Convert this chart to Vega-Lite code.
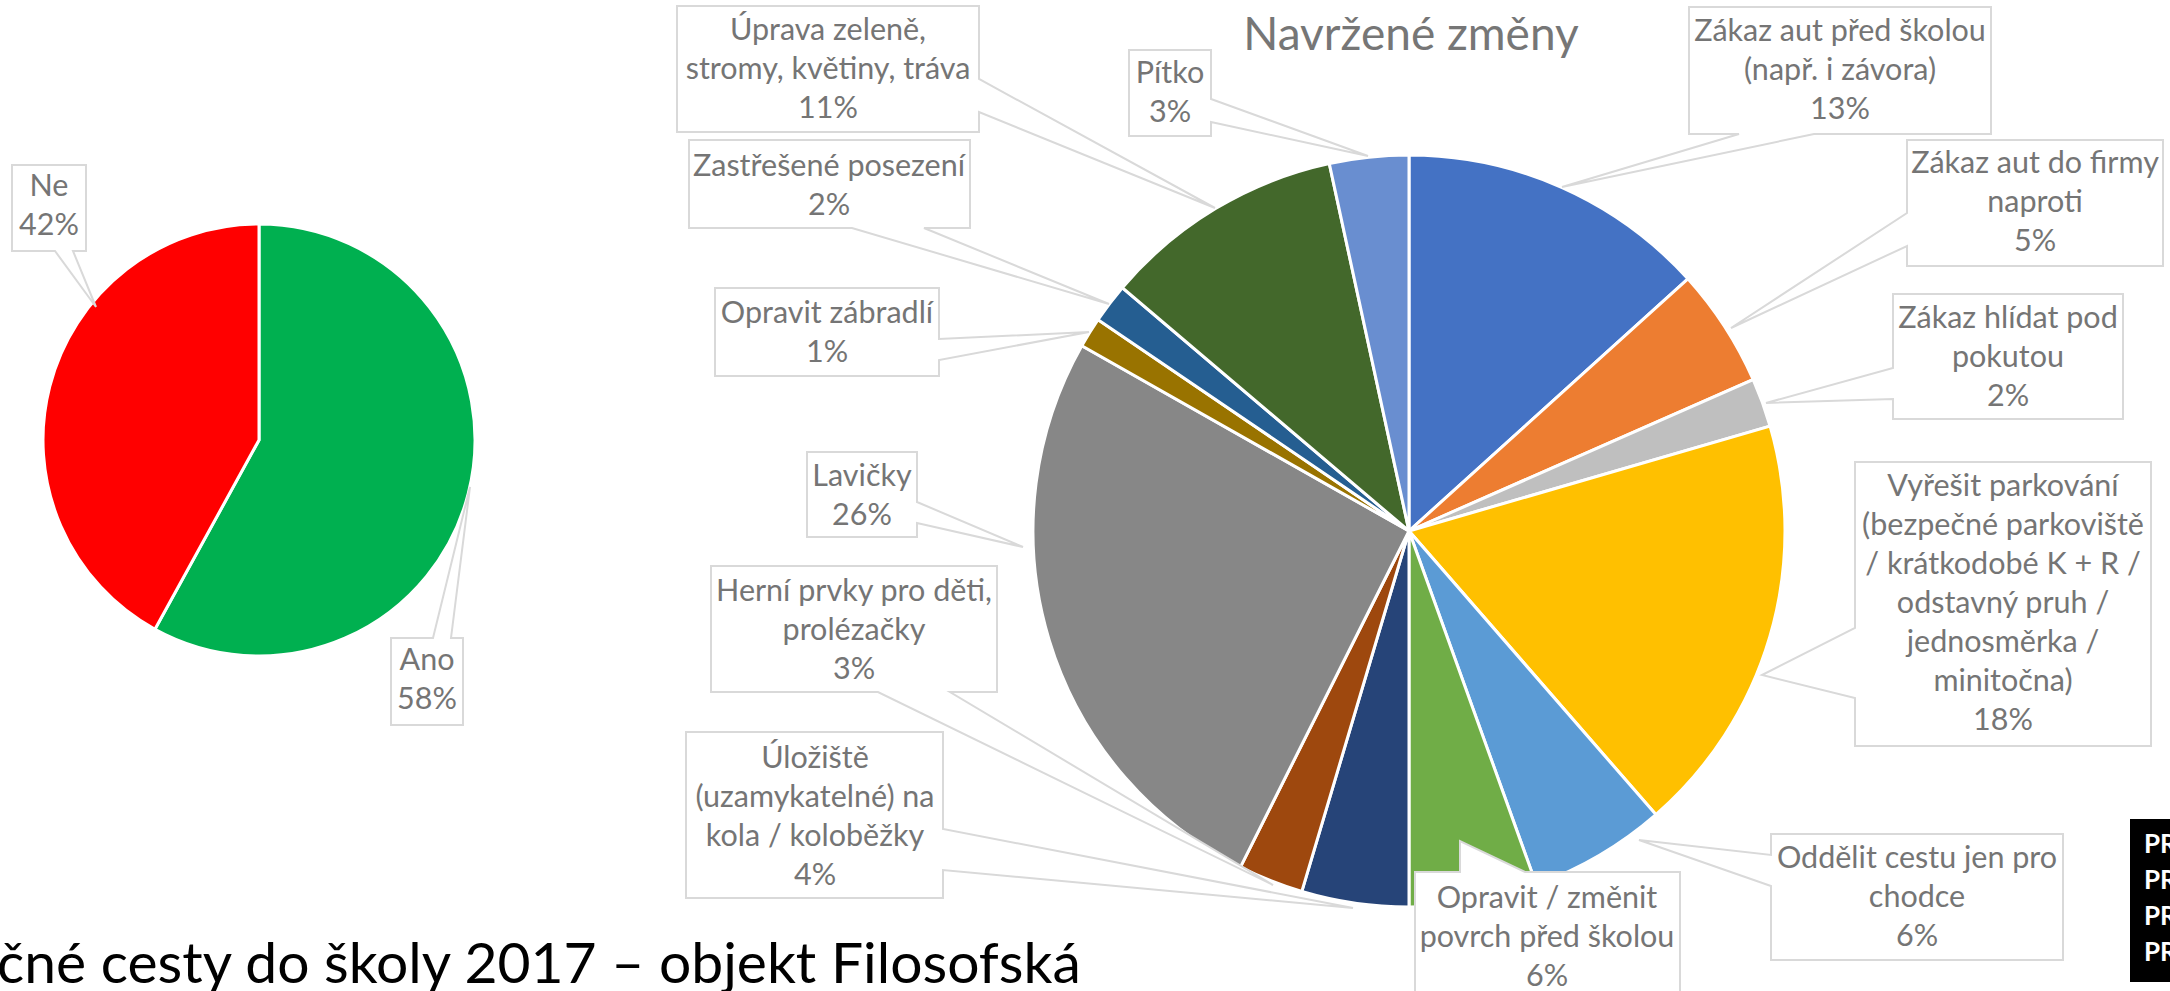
{
  "$schema": "https://vega.github.io/schema/vega-lite/v6.json",
  "width": 2170,
  "height": 991,
  "autosize": {"type": "fit", "contains": "padding"},
  "padding": 0,
  "background": "white",
  "config": {"view": {"stroke": null}},
  "datasets": {
    "ano_ne": [
      {"odpoved": "Ano", "podil": 58, "poradi": 1},
      {"odpoved": "Ne", "podil": 42, "poradi": 2}
    ],
    "zmeny": [
      {"zmena": "Zákaz aut před školou (např. i závora)", "podil": 13.3, "poradi": 1},
      {"zmena": "Zákaz aut do firmy naproti", "podil": 5.1, "poradi": 2},
      {"zmena": "Zákaz hlídat pod pokutou", "podil": 2.1, "poradi": 3},
      {"zmena": "Vyřešit parkování", "podil": 18.1, "poradi": 4},
      {"zmena": "Oddělit cestu jen pro chodce", "podil": 5.9, "poradi": 5},
      {"zmena": "Opravit / změnit povrch před školou", "podil": 5.5, "poradi": 6},
      {"zmena": "Úložiště (uzamykatelné) na kola / koloběžky", "podil": 4.6, "poradi": 7},
      {"zmena": "Herní prvky pro děti, prolézačky", "podil": 2.8, "poradi": 8},
      {"zmena": "Lavičky", "podil": 25.8, "poradi": 9},
      {"zmena": "Opravit zábradlí", "podil": 1.3, "poradi": 10},
      {"zmena": "Zastřešené posezení", "podil": 1.7, "poradi": 11},
      {"zmena": "Úprava zeleně, stromy, květiny, tráva", "podil": 10.4, "poradi": 12},
      {"zmena": "Pítko", "podil": 3.4, "poradi": 13}
    ],
    "popisky": [
      {"id": "A", "popisek": "Úprava zeleně,\nstromy, květiny, tráva\n11%", "lx": 828, "ly": 31},
      {"id": "B", "popisek": "Zastřešené posezení\n2%", "lx": 829, "ly": 167},
      {"id": "C", "popisek": "Opravit zábradlí\n1%", "lx": 827, "ly": 314},
      {"id": "D", "popisek": "Lavičky\n26%", "lx": 862, "ly": 477},
      {"id": "E", "popisek": "Herní prvky pro děti,\nprolézačky\n3%", "lx": 854, "ly": 592},
      {"id": "F", "popisek": "Úložiště\n(uzamykatelné) na\nkola / koloběžky\n4%", "lx": 815, "ly": 759},
      {"id": "G", "popisek": "Opravit / změnit\npovrch před školou\n6%", "lx": 1547, "ly": 899},
      {"id": "H", "popisek": "Oddělit cestu jen pro\nchodce\n6%", "lx": 1917, "ly": 859},
      {"id": "I", "popisek": "Vyřešit parkování\n(bezpečné parkoviště\n/ krátkodobé  K + R /\nodstavný pruh  /\njednosměrka  /\nminitočna)\n18%", "lx": 2003, "ly": 487},
      {"id": "J", "popisek": "Zákaz hlídat pod\npokutou\n2%", "lx": 2008, "ly": 319},
      {"id": "K", "popisek": "Zákaz aut do firmy\nnaproti\n5%", "lx": 2035, "ly": 164},
      {"id": "L", "popisek": "Zákaz aut před školou\n(např. i závora)\n13%", "lx": 1840, "ly": 32},
      {"id": "M", "popisek": "Pítko\n3%", "lx": 1170, "ly": 74},
      {"id": "N", "popisek": "Ne\n42%", "lx": 49, "ly": 187},
      {"id": "O", "popisek": "Ano\n58%", "lx": 427, "ly": 661}
    ],
    "bubliny": [
      {"id": "A", "i": 1, "px": 677, "py": 6}, {"id": "A", "i": 2, "px": 979, "py": 6}, {"id": "A", "i": 3, "px": 979, "py": 79}, {"id": "A", "i": 4, "px": 1215, "py": 208}, {"id": "A", "i": 5, "px": 979, "py": 112}, {"id": "A", "i": 6, "px": 979, "py": 132}, {"id": "A", "i": 7, "px": 677, "py": 132},
      {"id": "B", "i": 1, "px": 689, "py": 140}, {"id": "B", "i": 2, "px": 970, "py": 140}, {"id": "B", "i": 3, "px": 970, "py": 228}, {"id": "B", "i": 4, "px": 924, "py": 228}, {"id": "B", "i": 5, "px": 1109, "py": 304}, {"id": "B", "i": 6, "px": 852, "py": 228}, {"id": "B", "i": 7, "px": 689, "py": 228},
      {"id": "C", "i": 1, "px": 715, "py": 288}, {"id": "C", "i": 2, "px": 939, "py": 288}, {"id": "C", "i": 3, "px": 939, "py": 339}, {"id": "C", "i": 4, "px": 1089, "py": 332}, {"id": "C", "i": 5, "px": 939, "py": 360}, {"id": "C", "i": 6, "px": 939, "py": 376}, {"id": "C", "i": 7, "px": 715, "py": 376},
      {"id": "D", "i": 1, "px": 807, "py": 452}, {"id": "D", "i": 2, "px": 917, "py": 452}, {"id": "D", "i": 3, "px": 917, "py": 502}, {"id": "D", "i": 4, "px": 1023, "py": 547}, {"id": "D", "i": 5, "px": 917, "py": 523}, {"id": "D", "i": 6, "px": 917, "py": 537}, {"id": "D", "i": 7, "px": 807, "py": 537},
      {"id": "E", "i": 1, "px": 711, "py": 566}, {"id": "E", "i": 2, "px": 997, "py": 566}, {"id": "E", "i": 3, "px": 997, "py": 692}, {"id": "E", "i": 4, "px": 950, "py": 692}, {"id": "E", "i": 5, "px": 1273, "py": 885}, {"id": "E", "i": 6, "px": 878, "py": 692}, {"id": "E", "i": 7, "px": 711, "py": 692},
      {"id": "F", "i": 1, "px": 686, "py": 732}, {"id": "F", "i": 2, "px": 943, "py": 732}, {"id": "F", "i": 3, "px": 943, "py": 829}, {"id": "F", "i": 4, "px": 1353, "py": 908}, {"id": "F", "i": 5, "px": 943, "py": 870}, {"id": "F", "i": 6, "px": 943, "py": 898}, {"id": "F", "i": 7, "px": 686, "py": 898},
      {"id": "G", "i": 1, "px": 1415, "py": 872}, {"id": "G", "i": 2, "px": 1460, "py": 872}, {"id": "G", "i": 3, "px": 1460, "py": 841}, {"id": "G", "i": 4, "px": 1525, "py": 872}, {"id": "G", "i": 5, "px": 1680, "py": 872}, {"id": "G", "i": 6, "px": 1680, "py": 1010}, {"id": "G", "i": 7, "px": 1415, "py": 1010},
      {"id": "H", "i": 1, "px": 1771, "py": 834}, {"id": "H", "i": 2, "px": 2063, "py": 834}, {"id": "H", "i": 3, "px": 2063, "py": 960}, {"id": "H", "i": 4, "px": 1771, "py": 960}, {"id": "H", "i": 5, "px": 1771, "py": 886}, {"id": "H", "i": 6, "px": 1639, "py": 840}, {"id": "H", "i": 7, "px": 1771, "py": 855},
      {"id": "I", "i": 1, "px": 1855, "py": 462}, {"id": "I", "i": 2, "px": 2151, "py": 462}, {"id": "I", "i": 3, "px": 2151, "py": 746}, {"id": "I", "i": 4, "px": 1855, "py": 746}, {"id": "I", "i": 5, "px": 1855, "py": 698}, {"id": "I", "i": 6, "px": 1762, "py": 675}, {"id": "I", "i": 7, "px": 1855, "py": 628},
      {"id": "J", "i": 1, "px": 1893, "py": 294}, {"id": "J", "i": 2, "px": 2123, "py": 294}, {"id": "J", "i": 3, "px": 2123, "py": 419}, {"id": "J", "i": 4, "px": 1893, "py": 419}, {"id": "J", "i": 5, "px": 1893, "py": 399}, {"id": "J", "i": 6, "px": 1766, "py": 403}, {"id": "J", "i": 7, "px": 1893, "py": 368},
      {"id": "K", "i": 1, "px": 1907, "py": 140}, {"id": "K", "i": 2, "px": 2163, "py": 140}, {"id": "K", "i": 3, "px": 2163, "py": 266}, {"id": "K", "i": 4, "px": 1907, "py": 266}, {"id": "K", "i": 5, "px": 1907, "py": 246}, {"id": "K", "i": 6, "px": 1731, "py": 328}, {"id": "K", "i": 7, "px": 1907, "py": 213},
      {"id": "L", "i": 1, "px": 1689, "py": 7}, {"id": "L", "i": 2, "px": 1991, "py": 7}, {"id": "L", "i": 3, "px": 1991, "py": 134}, {"id": "L", "i": 4, "px": 1814, "py": 134}, {"id": "L", "i": 5, "px": 1562, "py": 187}, {"id": "L", "i": 6, "px": 1739, "py": 134}, {"id": "L", "i": 7, "px": 1689, "py": 134},
      {"id": "M", "i": 1, "px": 1129, "py": 50}, {"id": "M", "i": 2, "px": 1211, "py": 50}, {"id": "M", "i": 3, "px": 1211, "py": 99}, {"id": "M", "i": 4, "px": 1368, "py": 156}, {"id": "M", "i": 5, "px": 1211, "py": 122}, {"id": "M", "i": 6, "px": 1211, "py": 136}, {"id": "M", "i": 7, "px": 1129, "py": 136},
      {"id": "N", "i": 1, "px": 12, "py": 165}, {"id": "N", "i": 2, "px": 86, "py": 165}, {"id": "N", "i": 3, "px": 86, "py": 251}, {"id": "N", "i": 4, "px": 73, "py": 251}, {"id": "N", "i": 5, "px": 96, "py": 307}, {"id": "N", "i": 6, "px": 55, "py": 251}, {"id": "N", "i": 7, "px": 12, "py": 251},
      {"id": "O", "i": 1, "px": 391, "py": 638}, {"id": "O", "i": 2, "px": 433, "py": 638}, {"id": "O", "i": 3, "px": 470, "py": 487}, {"id": "O", "i": 4, "px": 451, "py": 638}, {"id": "O", "i": 5, "px": 463, "py": 638}, {"id": "O", "i": 6, "px": 463, "py": 725}, {"id": "O", "i": 7, "px": 391, "py": 725}
    ]
  },
  "resolve": {"scale": {"theta": "independent", "color": "independent"}},
  "layer": [
    {
      "data": {"name": "ano_ne"},
      "mark": {"type": "arc", "outerRadius": 216, "x": {"expr": "scale('x', 259)"}, "y": {"expr": "scale('y', 440)"}, "stroke": "white", "strokeWidth": 3},
      "encoding": {
        "theta": {"field": "podil", "type": "quantitative", "stack": true},
        "order": {"field": "poradi", "type": "quantitative"},
        "color": {"field": "odpoved", "type": "nominal", "legend": null, "scale": {"domain": ["Ano", "Ne"], "range": ["#00B050", "#FF0000"]}}
      }
    },
    {
      "data": {"name": "zmeny"},
      "mark": {"type": "arc", "outerRadius": 376, "x": {"expr": "scale('x', 1409)"}, "y": {"expr": "scale('y', 531)"}, "stroke": "white", "strokeWidth": 3},
      "encoding": {
        "theta": {"field": "podil", "type": "quantitative", "stack": true},
        "order": {"field": "poradi", "type": "quantitative"},
        "color": {"field": "zmena", "type": "nominal", "legend": null, "sort": null,
          "scale": {
            "domain": ["Zákaz aut před školou (např. i závora)", "Zákaz aut do firmy naproti", "Zákaz hlídat pod pokutou", "Vyřešit parkování", "Oddělit cestu jen pro chodce", "Opravit / změnit povrch před školou", "Úložiště (uzamykatelné) na kola / koloběžky", "Herní prvky pro děti, prolézačky", "Lavičky", "Opravit zábradlí", "Zastřešené posezení", "Úprava zeleně, stromy, květiny, tráva", "Pítko"],
            "range": ["#4472C4", "#ED7D31", "#BFBFBF", "#FFC000", "#5B9BD5", "#70AD47", "#264478", "#9E480E", "#878787", "#997300", "#255E91", "#43682B", "#698ED0"]
          }}
      }
    },
    {
      "data": {"name": "bubliny"},
      "mark": {"type": "line", "interpolate": "linear-closed", "fill": "white", "stroke": "#D9D9D9", "strokeWidth": 2, "clip": true},
      "encoding": {
        "x": {"field": "px", "type": "quantitative", "axis": null, "scale": {"domain": [0, 2170], "nice": false, "zero": false}},
        "y": {"field": "py", "type": "quantitative", "axis": null, "scale": {"domain": [0, 991], "nice": false, "zero": false, "reverse": true}},
        "order": {"field": "i", "type": "quantitative"},
        "detail": {"field": "id", "type": "nominal"}
      }
    },
    {
      "data": {"name": "popisky"},
      "mark": {"type": "text", "font": "Lato", "fontSize": 30.5, "lineHeight": 39, "lineBreak": "\n", "fill": "#757575", "align": "center", "baseline": "middle", "clip": true},
      "encoding": {
        "x": {"field": "lx", "type": "quantitative", "axis": null, "scale": {"domain": [0, 2170], "nice": false, "zero": false}},
        "y": {"field": "ly", "type": "quantitative", "axis": null, "scale": {"domain": [0, 991], "nice": false, "zero": false, "reverse": true}},
        "text": {"field": "popisek", "type": "nominal"}
      }
    },
    {
      "data": {"values": [{"nadpis": "Navržené změny"}]},
      "mark": {"type": "text", "font": "Lato", "fontSize": 46, "fill": "#767676", "align": "center", "baseline": "alphabetic"},
      "encoding": {
        "text": {"field": "nadpis", "type": "nominal"},
        "x": {"datum": 1411, "type": "quantitative", "scale": {"domain": [0, 2170], "nice": false, "zero": false}},
        "y": {"datum": 50, "type": "quantitative", "scale": {"domain": [0, 991], "nice": false, "zero": false, "reverse": true}}
      }
    },
    {
      "data": {"values": [{"nadpis": "čné cesty do školy 2017 – objekt Filosofská"}]},
      "mark": {"type": "text", "font": "Lato", "fontSize": 57, "fill": "black", "align": "left", "baseline": "alphabetic", "dx": -3, "clip": true},
      "encoding": {
        "text": {"field": "nadpis", "type": "nominal"},
        "x": {"datum": 0, "type": "quantitative", "scale": {"domain": [0, 2170], "nice": false, "zero": false}},
        "y": {"datum": 983, "type": "quantitative", "scale": {"domain": [0, 991], "nice": false, "zero": false, "reverse": true}}
      }
    },
    {
      "data": {"values": [{"logo": "PR"}]},
      "mark": {"type": "rect", "fill": "black", "clip": true},
      "encoding": {
        "x": {"datum": 2130, "type": "quantitative", "scale": {"domain": [0, 2170], "nice": false, "zero": false}},
        "x2": {"datum": 2170},
        "y": {"datum": 819, "type": "quantitative", "scale": {"domain": [0, 991], "nice": false, "zero": false, "reverse": true}},
        "y2": {"datum": 982}
      }
    },
    {
      "data": {"values": [{"logo": "PR\nPR\nPR\nPR"}]},
      "mark": {"type": "text", "lineBreak": "\n", "lineHeight": 36, "font": "Lato", "fontWeight": "bold", "fontSize": 26, "fill": "white", "align": "left", "baseline": "middle", "clip": true},
      "encoding": {
        "text": {"field": "logo", "type": "nominal"},
        "x": {"datum": 2144, "type": "quantitative", "scale": {"domain": [0, 2170], "nice": false, "zero": false}},
        "y": {"datum": 845, "type": "quantitative", "scale": {"domain": [0, 991], "nice": false, "zero": false, "reverse": true}}
      }
    }
  ]
}
